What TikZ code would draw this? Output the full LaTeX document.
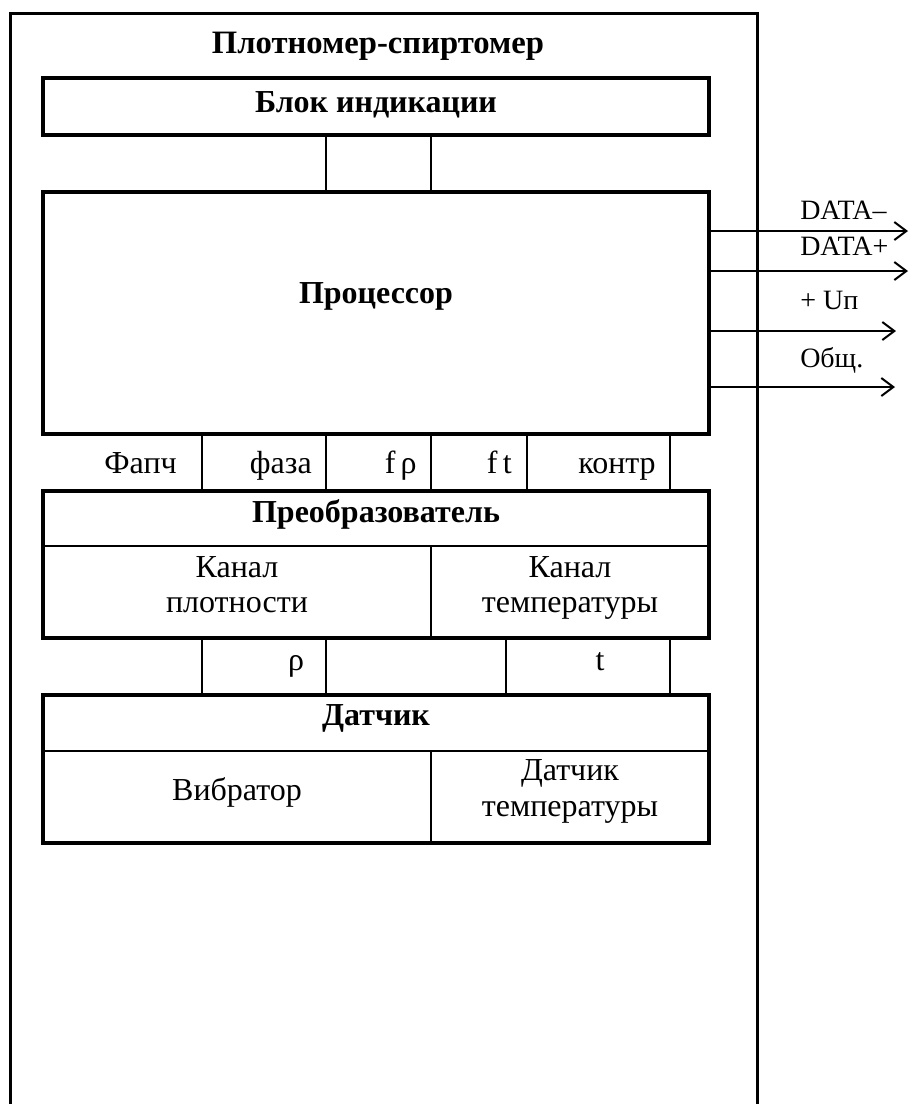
\documentclass[tikz,border=0pt]{standalone}
\usepackage{fontspec}
\setmainfont{Liberation Serif}
\usetikzlibrary{arrows.meta,calc}
\begin{document}
\begin{tikzpicture}[x=0.75pt,y=-0.75pt,
  box/.style={draw,line width=3pt,minimum width=499.5pt,inner sep=0pt},
  thinline/.style={line width=1.5pt},
  lbl/.style={font=\fontsize{24}{28}\selectfont,inner sep=0pt,anchor=base},
  cell/.style={font=\fontsize{24}{28}\selectfont,inner sep=0pt,anchor=base east},
  hdr/.style={font=\bfseries\fontsize{24}{28}\selectfont,inner sep=0pt,anchor=base},
  ttl/.style={font=\bfseries\fontsize{24.5}{28}\selectfont,inner sep=0pt,anchor=base},
  sig/.style={font=\fontsize{21}{25}\selectfont,inner sep=0pt,anchor=base west},
  arr/.style={line width=1.5pt,-{Straight Barb[length=9pt,width=13.5pt,line width=1.5pt]}}]
\useasboundingbox (0,0) rectangle (910,1104);
% outer frame
\coordinate (fbl) at (10,1104);
\coordinate (ftl) at (10,13);
\coordinate (ftr) at (757,13);
\coordinate (fbr) at (757,1104);
\draw[line width=2.25pt] (fbl) -- (ftl) -- (ftr) -- (fbr);
\node[ttl] (title) at (378,53) {Плотномер-спиртомер};
% boxes
\node[box,minimum height=42.75pt] (ind) at (376,106.5) {};
\node[box,minimum height=181.5pt] (proc) at (376,313) {};
\node[box,minimum height=110.25pt] (conv) at (376,564.5) {};
\node[box,minimum height=111pt] (sens) at (376,769) {};
% helper coordinates
\coordinate (xa) at (202,0);
\coordinate (xb) at (326,0);
\coordinate (xc) at (431,0);
\coordinate (xd) at (527,0);
\coordinate (xe) at (670,0);
\coordinate (xf) at (506,0);
\coordinate (hc) at (0,546);
\coordinate (hs) at (0,751);
% indication - processor links
\draw[thinline] (ind.south -| xb) -- (proc.north -| xb);
\draw[thinline] (ind.south -| xc) -- (proc.north -| xc);
% row 1 cells
\foreach \c in {xa,xb,xc,xd,xe}{\draw[thinline] (proc.south -| \c) -- (conv.north -| \c);}
% converter inner lines
\draw[thinline] (conv.west |- hc) -- (conv.east |- hc);
\draw[thinline] (xc |- hc) -- (conv.south -| xc);
% row 2 cells
\foreach \c in {xa,xb,xf,xe}{\draw[thinline] (conv.south -| \c) -- (sens.north -| \c);}
% sensor inner lines
\draw[thinline] (sens.west |- hs) -- (sens.east |- hs);
\draw[thinline] (xc |- hs) -- (sens.south -| xc);
% texts
\node[hdr] (tind) at (376,112) {Блок индикации};
\node[hdr] (tproc) at (376,303) {Процессор};
\node[hdr] (tconv) at (376,522) {Преобразователь};
\node[hdr] (tsens) at (376,725) {Датчик};
\node[cell] (l1) at (177,473) {Фапч};
\node[cell] (l2) at (312,473) {фаза};
\node[cell] (l3) at (417,473) {f\,ρ};
\node[cell] (l4) at (512,473) {f\,t};
\node[cell] (l5) at (656,473) {контр};
\node[lbl] (k1a) at (237,577) {Канал};
\node[lbl] (k1b) at (237,612) {плотности};
\node[lbl] (k2a) at (570,577) {Канал};
\node[lbl] (k2b) at (570,612) {температуры};
\node[cell,anchor=base] (rho) at (296,670) {ρ};
\node[cell,anchor=base] (tt) at (600,670) {t};
\node[lbl] (vib) at (237,800) {Вибратор};
\node[lbl] (d2a) at (570,780) {Датчик};
\node[lbl] (d2b) at (570,816) {температуры};
% outputs
\coordinate (o1) at (908,231);
\coordinate (o2) at (908,271);
\coordinate (o3) at (896,331);
\coordinate (o4) at (895,387);
\draw[arr] (proc.east |- o1) -- (o1);
\draw[arr] (proc.east |- o2) -- (o2);
\draw[arr] (proc.east |- o3) -- (o3);
\draw[arr] (proc.east |- o4) -- (o4);
\node[sig] (s1) at (800,219) {DATA–};
\node[sig] (s2) at (800,255) {DATA+};
\node[sig] (s3) at (800,309) {+ Uп};
\node[sig] (s4) at (800,367) {Общ.};
\end{tikzpicture}
\end{document}
